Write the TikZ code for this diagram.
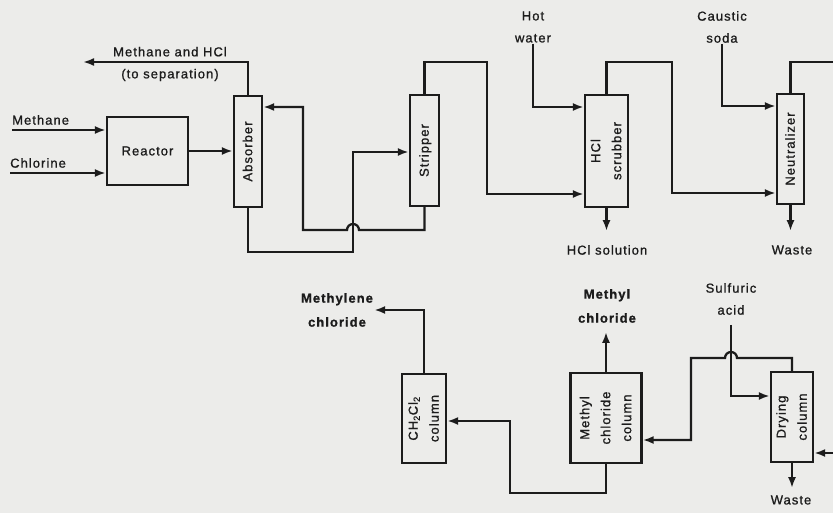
\documentclass[tikz,border=0pt]{standalone}
\usepackage{fontspec}
\setmainfont{Liberation Sans}[LetterSpace=8,FakeBold=1]
\usetikzlibrary{arrows.meta,calc}
\definecolor{paper}{RGB}{236,236,234}
\definecolor{ink}{RGB}{28,28,28}
\newcommand{\lblfont}{\fontsize{13}{22}\selectfont}
\newcommand{\lblbold}{\fontsize{13}{24}\selectfont\bfseries}
\newcommand{\unitfont}{\fontsize{13}{21}\selectfont}
\newcommand{\vtext}[1]{\rotatebox{90}{\begin{tabular}{@{}c@{}}#1\end{tabular}}}
\begin{document}
\begin{tikzpicture}[x=1pt,y=-1pt,
  unit/.style={draw=ink,line width=2.3pt,fill=paper,inner sep=0pt,font=\unitfont,text=ink},
  flow/.style={draw=ink,line width=2.3pt},
  arr/.style={flow,-{Latex[length=11pt,width=8pt]}},
  lbl/.style={inner sep=1pt,align=center,font=\lblfont,text=ink},
  lblb/.style={inner sep=1pt,align=center,font=\lblbold,text=ink}]
\fill[paper] (0,0) rectangle (833,513);
\useasboundingbox (0,0) rectangle (833,513);

% units
\node[unit,minimum width=81pt,minimum height=68pt] (reactor) at (147.5,151) {Reactor};
\node[unit,minimum width=28pt,minimum height=111pt] (absorber) at (248,151.5) {\vtext{Absorber}};
\node[unit,minimum width=29pt,minimum height=111pt] (stripper) at (424.5,150.5) {\vtext{Stripper}};
\node[unit,minimum width=43pt,minimum height=112pt] (scrubber) at (606.5,151) {\vtext{HCl\\scrubber}};
\node[unit,minimum width=27pt,minimum height=110pt] (neutral) at (790.5,149) {\vtext{Neutralizer}};
\node[unit,minimum width=44pt,minimum height=89pt] (chcol) at (424,418.5) {\vtext{CH\textsubscript{2}Cl\textsubscript{2}\\column}};
\node[unit,minimum width=71pt,minimum height=90pt] (mecol) at (606,418) {\vtext{Methyl\\chloride\\column}};
\node[unit,minimum width=42pt,minimum height=90pt] (drycol) at (792,417) {\vtext{Drying\\column}};

% labels
\node[lbl] (sep) at (170,64) {Methane and HCl\\(to separation)};
\node[lbl,anchor=west] (methane) at (11,120) {Methane};
\node[lbl,anchor=west] (chlorine) at (9,163) {Chlorine};
\node[lbl] (hotw) at (533,27) {Hot\\water};
\node[lbl] (caustic) at (722,27) {Caustic\\soda};
\node[lbl] (hclsol) at (607,250) {HCl solution};
\node[lbl] (waste1) at (792,250) {Waste};
\node[lblb] (mecl2) at (337,310) {Methylene\\chloride};
\node[lblb] (mecl) at (607,306) {Methyl\\chloride};
\node[lbl] (sulf) at (731,299) {Sulfuric\\acid};
\node[lbl] (waste2) at (791,500) {Waste};

% coordinates
\coordinate (sepEnd) at (83,62);
\coordinate (methIn) at (12,130);
\coordinate (chlIn) at (10,173);
\coordinate (absIn) at (303,107);
\coordinate (ab1) at (353,252);
\coordinate (ab2) at (353,152);
\coordinate (st1) at (487,62);
\coordinate (st2) at (487,194);
\coordinate (hw1) at (533,107);
\coordinate (sc1) at (672,62);
\coordinate (sc2) at (672,193);
\coordinate (cs1) at (722,106);
\coordinate (ntOut) at (833,62);
\coordinate (mb2) at (510,493);
\coordinate (mb3) at (510,421);
\coordinate (hopR) at (737,358);
\coordinate (d3) at (691,440);
\coordinate (sa1) at (731,396);
\coordinate (dIn) at (833,453);

% flows
\draw[arr] (absorber.north) |- (sepEnd);
\draw[arr] (methIn) -- (methIn -| reactor.west);
\draw[arr] (chlIn) -- (chlIn -| reactor.west);
\draw[arr] (reactor.east) -- (reactor.east -| absorber.west);
\draw[arr] (stripper.south) |- (359,230) arc[start angle=0,end angle=-180,radius=6] -- (303,230) -- (absIn) -- (absIn -| absorber.east);
\draw[arr] (absorber.south) |- (ab1) -- (ab2) -- (ab2 -| stripper.west);
\draw[arr] (stripper.north) |- (st1) -- (st2) -- (st2 -| scrubber.west);
\draw[arr] (hotw.south) -- (hw1) -- (hw1 -| scrubber.west);
\draw[arr] (scrubber.north) |- (sc1) -- (sc2) -- (sc2 -| neutral.west);
\draw[arr] (caustic.south) -- (cs1) -- (cs1 -| neutral.west);
\draw[flow] (neutral.north) |- (ntOut);
\draw[arr] (neutral.south) -- ++(0,26);
\draw[arr] (scrubber.south) -- ++(0,23);
\draw[arr] (chcol.north) |- (mecl2.east);
\draw[arr] (mecol.south) |- (mb2) -- (mb3) -- (mb3 -| chcol.east);
\draw[arr] (mecol.north) -- ++(0,-40);
\draw[arr] (drycol.north) |- (hopR) arc[start angle=0,end angle=-180,radius=6] -- (691,358) -- (d3) -- (d3 -| mecol.east);
\draw[arr] ($(sulf.south)+(0,9)$) -- (sa1) -- (sa1 -| drycol.west);
\draw[arr] (dIn) -- (dIn -| drycol.east);
\draw[arr] (drycol.south) -- ++(0,25);
\end{tikzpicture}
\end{document}
